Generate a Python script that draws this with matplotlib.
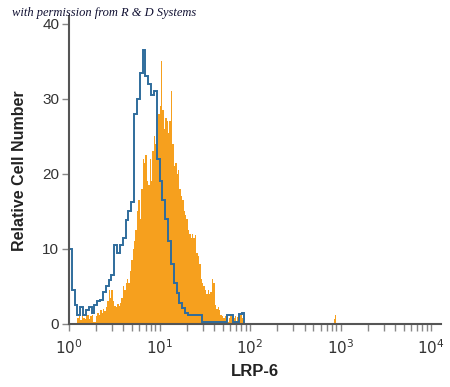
import numpy as np
import matplotlib
matplotlib.use("Agg")
import matplotlib.pyplot as plt
from matplotlib.ticker import LogLocator, NullFormatter

# Histogramy (wartości w kanałach logarytmicznych)
# kontrola izotypowa (niebieska linia), kanały co 1/32 dekady od 10^0
blue_start = 0
blue_step = 1 / 32
blue_vals = [
    10.0, 4.5, 2.5, 1.2, 2.3, 1.2, 1.8, 2.2, 1.5, 2.5,
    3.0, 3.2, 4.2, 5.0, 5.8, 6.5, 10.5, 9.5, 10.5, 11.5,
    13.8, 15.0, 16.2, 28.0, 30.0, 33.5, 36.5, 33.0, 32.0, 30.5,
    31.0, 22.0, 19.0, 16.5, 14.0, 11.0, 8.0, 5.5, 4.1, 2.8,
    2.1, 1.5, 1.2, 1.2, 1.2, 1.2, 1.2, 0.3, 0.3, 0.3,
    0.3, 0.3, 0.3, 0.3, 0.3, 0.3, 1.2, 1.2, 0.3, 0.3,
    1.3, 1.5,
]

# LRP-6 (pomarańczowy wypełniony), kanały co 1/64 dekady od 10^(6/64)
orange_start = 6
orange_step = 1 / 64
orange_vals = [
    0.8, 1.0, 0.5, 1.2, 0.8, 0.6, 1.0, 1.2, 0.7, 1.0,
    1.2, 0.3, 0.2, 1.0, 1.5, 1.2, 1.8, 1.5, 2.0, 1.7,
    2.2, 3.0, 4.5, 3.5, 4.5, 3.0, 2.4, 2.2, 2.6, 2.4,
    2.8, 3.5, 5.0, 4.5, 5.5, 6.0, 5.5, 7.0, 8.5, 10.0,
    11.0, 12.5, 15.0, 16.5, 14.0, 18.0, 22.0, 21.5, 22.5, 19.0,
    18.5, 22.0, 19.0, 23.0, 25.0, 24.0, 23.5, 28.0, 29.0, 35.0,
    28.5, 26.0, 27.5, 27.0, 25.5, 27.0, 31.0, 24.0, 21.0, 21.5,
    20.0, 20.5, 18.0, 17.0, 16.5, 15.0, 14.5, 14.0, 12.5, 12.0,
    11.5, 12.0, 11.5, 11.9, 9.5, 9.0, 8.0, 6.0, 5.5, 5.0,
    4.5, 4.0, 4.5, 4.0, 4.2, 6.0, 5.5, 2.5, 2.0, 2.2,
    1.8, 1.2, 1.0, 0.8, 1.0, 0.6, 0.3, 0.8, 1.0, 0.5,
    0.8, 1.0, 0.3, 0.9, 1.0, 1.2, 0.8, 0.5,
]
# mały pik przy 10^3
orange_far_start = 187
orange_far_vals = [0.6, 1.2]

y_ticks = [0, 10, 20, 30, 40]
x_ticks = [1, 10, 100, 1000, 10000]
x_labels = ["$10^0$", "$10^1$", "$10^2$", "$10^3$", "$10^4$"]

ORANGE = "#F6A01E"
BLUE = "#2F6C9C"
GREY = "#555555"
NARROW = ["Liberation Sans Narrow", "Liberation Sans", "DejaVu Sans"]

plt.rcParams["font.family"] = NARROW
plt.rcParams["mathtext.fontset"] = "custom"
plt.rcParams["mathtext.rm"] = "Liberation Sans Narrow"
plt.rcParams["mathtext.it"] = "Liberation Sans Narrow:italic"


def log_edges(start, step, n):
    return 10 ** ((start + np.arange(n + 1)) * step)


fig = plt.figure(figsize=(4.5, 3.87), dpi=100)
ax = fig.add_axes([0.1533, 0.1628, 0.827, 0.7946])

ax.stairs(orange_vals, log_edges(orange_start, orange_step, len(orange_vals)),
          fill=True, color=ORANGE, linewidth=0)
ax.stairs(orange_far_vals, log_edges(orange_far_start, orange_step, len(orange_far_vals)),
          fill=True, color=ORANGE, linewidth=0)
ax.stairs(blue_vals, log_edges(blue_start, blue_step, len(blue_vals)),
          color=BLUE, linewidth=1.4, baseline=0)

ax.set_xscale("log")
ax.set_xlim(1, 10 ** 4.11)
ax.set_ylim(0, 41)

ax.set_xticks(x_ticks)
ax.set_xticklabels(x_labels)
ax.xaxis.set_minor_locator(LogLocator(base=10, subs=np.arange(2, 10)))
ax.xaxis.set_minor_formatter(NullFormatter())
ax.set_yticks(y_ticks)

for s in ["top", "right"]:
    ax.spines[s].set_visible(False)
for s in ["left", "bottom"]:
    ax.spines[s].set_color(GREY)
    ax.spines[s].set_linewidth(1.5)

ax.tick_params(axis="both", which="both", color="#888888", width=1,
               labelsize=11, labelcolor="#333333", direction="out")
ax.tick_params(axis="x", which="major", length=5, pad=5)
ax.tick_params(axis="x", which="minor", length=5)
ax.tick_params(axis="y", which="major", length=5, pad=2)

ax.set_ylabel("Relative Cell Number", fontsize=11.5, fontweight="bold",
              color="#222222", labelpad=11)
ax.set_xlabel("LRP-6", fontsize=12, fontweight="bold", color="#222222",
              labelpad=5)

fig.text(0.027, 0.966, "with permission from R & D Systems", fontsize=9,
         family=["Liberation Serif", "DejaVu Serif"], style="italic",
         color="#111133", va="center")

fig.savefig("out.png", dpi=100)
